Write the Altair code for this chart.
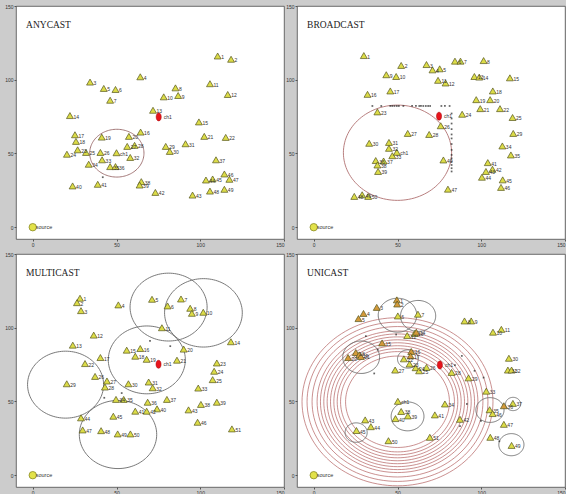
import altair as alt
import pandas as pd
import numpy as np

# shared axis ranges and ticks (MATLAB-style box axes)
X_RANGE = [-10, 150]
Y_RANGE = [-8, 150]
TICKS = [0, 50, 100, 150]

# ---------------- ANYCAST ----------------
any_x = [110.4, 118.4, 34.2, 64.2, 42.4, 49.4, 46.2, 85.2, 86.8, 78.2, 105.8, 116.4, 71.8,
         22.2, 99.2, 64.4, 25.2, 25.8, 41.2, 57.4, 102.4, 115.2, 26.8, 20.4, 31.8, 40.4,
         56.4, 60.8, 79.4, 81.8, 91.2, 58.2, 41.4, 33.4, 46.2, 49.4, 109.4, 64.8, 63.8,
         23.8, 38.8, 73.2, 95.4, 103.4, 107.4, 114.4, 117.4, 105.8, 114.4]
any_y = [116.1, 113.9, 98.4, 102.0, 94.1, 93.4, 86.1, 94.5, 89.3, 88.4, 97.3, 90.0, 79.3,
         75.7, 71.4, 64.5, 62.7, 58.2, 61.1, 61.6, 61.6, 60.9, 52.5, 49.5, 50.7, 50.7,
         54.8, 55.5, 54.8, 51.4, 56.6, 47.3, 45.7, 42.7, 41.1, 41.1, 45.7, 30.9, 28.6,
         28.0, 29.1, 23.6, 21.8, 32.0, 32.7, 36.1, 32.5, 24.5, 25.7]
any_head = [50.0, 50.5]
any_red = [75.2, 74.8]
any_rings_cx = [50.2]
any_rings_cy = [50.2]
any_rings_r = [16.2]
any_dots_x = [41.8]
any_dots_y = [33.9]

# ---------------- BROADCAST ----------------
bro_x = [29.9, 52.2, 67.3, 70.9, 75.2, 84.3, 87.6, 101.4, 43.3, 49.2, 74.2, 78.7, 95.9,
         98.8, 117.1, 32.1, 45.7, 106.9, 97.0, 105.3, 99.4, 111.2, 38.0, 88.6, 118.7,
         75.8, 56.1, 68.9, 119.1, 33.1, 44.9, 44.9, 46.9, 112.6, 117.7, 37.0, 41.7,
         38.0, 38.4, 77.4, 103.9, 106.7, 102.8, 100.4, 112.8, 111.8, 80.1, 24.2, 28.9, 32.5]
bro_y = [116.4, 109.7, 110.3, 106.7, 107.4, 112.6, 112.6, 113.0, 103.4, 102.2, 99.6, 97.8,
         102.2, 101.8, 101.3, 90.1, 92.4, 92.4, 86.5, 86.5, 80.4, 80.4, 78.2, 76.6, 74.4,
         68.8, 63.6, 62.9, 63.6, 56.9, 57.5, 53.5, 48.5, 55.1, 49.0, 45.2, 44.9, 42.2,
         37.8, 45.6, 43.8, 39.3, 37.8, 33.9, 32.1, 27.0, 25.8, 20.9, 22.0, 20.9]
bro_head = [49.6, 50.8]
bro_red = [74.8, 75.3]
bro_rings_cx = [50.0]
bro_rings_cy = [50.5]
bro_rings_r = [32.3]
bro_dots_x = [35.0, 40.3, 45.7, 46.9, 48.2, 49.6, 50.8, 53.5, 58.7, 61.0, 63.0, 64.0, 65.4,
              66.9, 68.3, 69.5, 76.2, 78.3, 81.1,
              82.3, 82.3, 82.3, 82.3, 82.3, 82.3, 82.3, 82.3, 82.3, 82.3, 82.3, 82.3, 82.3, 82.3]
bro_dots_y = [82.2, 82.2, 82.2, 82.2, 82.2, 82.2, 82.2, 82.2, 82.2, 82.2, 82.2, 82.2, 82.2,
              82.2, 82.2, 82.2, 82.2, 82.2, 82.2,
              77.1, 73.7, 70.3, 66.5, 62.9, 60.2, 56.4, 52.4, 49.0, 46.7, 44.5, 42.2, 40.0, 37.8]

# ---------------- MULTICAST ----------------
mul_x = [28.2, 26.4, 28.8, 51.1, 71.2, 80.5, 88.5, 94.0, 95.0, 101.8, 77.1, 36.4, 23.9,
         118.3, 56.1, 64.2, 40.4, 61.2, 68.0, 90.1, 86.1, 31.2, 109.9, 108.3, 107.4, 37.2,
         44.3, 43.1, 20.3, 57.1, 69.2, 71.6, 98.8, 49.7, 54.3, 68.6, 80.1, 100.4, 109.9,
         74.2, 61.2, 68.0, 93.0, 28.8, 48.1, 98.4, 29.8, 40.8, 50.7, 58.3, 118.9]
mul_y = [120.0, 117.0, 111.6, 115.5, 119.3, 114.8, 119.5, 113.2, 109.8, 110.5, 100.0, 95.0,
         88.2, 90.5, 84.8, 85.9, 79.8, 80.7, 78.6, 85.5, 78.0, 75.7, 76.1, 70.5, 64.8, 67.0,
         63.9, 59.8, 62.0, 62.0, 63.2, 59.3, 59.1, 51.4, 51.4, 49.5, 51.4, 48.0, 49.5, 45.0,
         43.4, 43.4, 44.3, 38.9, 40.0, 35.9, 30.7, 30.2, 28.0, 28.0, 31.4]
mul_red = [75.1, 75.2]
mul_rings_cx = [81.1, 101.9, 68.1, 19.6, 50.9]
mul_rings_cy = [114.0, 110.1, 78.2, 61.4, 27.6]
mul_rings_r = [23.0, 23.2, 23.0, 22.7, 23.1]
mul_dots_x = [70.0, 82.1, 53.1, 42.7]
mul_dots_y = [91.1, 87.5, 55.7, 52.5]

# ---------------- UNICAST ----------------
uni_x = [49.6, 49.8, 37.6, 29.7, 26.7, 50.2, 62.2, 90.0, 94.0, 107.0, 112.0, 55.8, 60.2,
         61.2, 40.8, 58.2, 57.8, 25.1, 27.1, 20.5, 28.1, 53.8, 57.2, 60.8, 62.9, 67.3,
         48.6, 82.3, 92.4, 116.5, 115.9, 118.1, 103.0, 78.3, 105.0, 113.5, 118.9, 52.2,
         56.2, 48.8, 72.3, 87.3, 30.7, 34.1, 25.5, 106.8, 113.5, 105.4, 118.1, 44.6, 69.3]
uni_y = [118.9, 116.1, 113.8, 109.7, 106.2, 108.0, 109.2, 104.6, 104.6, 97.0, 98.9, 94.7,
         96.1, 97.0, 89.7, 83.9, 80.9, 83.2, 81.6, 79.8, 80.5, 78.9, 75.4, 72.9, 70.8, 73.1,
         71.3, 69.7, 66.0, 79.3, 71.3, 71.3, 57.0, 48.3, 44.4, 47.1, 48.7, 43.2, 40.2, 38.4,
         40.9, 37.9, 37.5, 32.9, 30.3, 41.8, 34.5, 25.7, 20.2, 23.4, 25.7]
# 1 = node already reached by a unicast packet (drawn in orange)
uni_reached = [1, 1, 1, 1, 1, 0, 0, 0, 0, 0, 0, 0, 0,
               1, 1, 1, 1, 1, 1, 1, 1, 0, 0, 0, 0, 0,
               0, 0, 0, 0, 0, 0, 0, 0, 0, 1, 0, 0,
               0, 0, 0, 0, 0, 0, 0, 0, 0, 0, 0, 0, 0]
uni_head = [50.2, 50.1]
uni_red = [75.3, 74.7]
# concentric transmission rings around the cluster head
uni_wave_r = [31, 34, 36, 38, 40, 42, 44, 46, 48, 51, 54, 57]
uni_wave_c = [50.0, 49.8]
# per-node neighbourhood circles
uni_rings_cx = [50.0, 62.3, 28.3, 56.2, 56.0, 25.3, 105.2, 119.0, 118.0]
uni_rings_cy = [108.5, 108.0, 80.0, 78.8, 39.9, 28.9, 44.2, 48.3, 20.7]
uni_rings_r = [11.5, 10.5, 11.0, 6.2, 9.8, 6.6, 8.4, 4.5, 7.5]
uni_dots_x = [31.1, 49.2, 38.2, 36.1, 84.3, 88.4, 96.0, 101.4, 91.4, 99.8, 87.3, 110.8]
uni_dots_y = [94.3, 95.4, 85.1, 69.0, 74.7, 80.9, 70.8, 66.2, 48.3, 36.8, 33.3, 23.0]

SOURCE = [0.0, 0.0]

NODE_FILL = "#dcdc48"
NODE_REACHED = "#d49a3a"
NODE_EDGE = "#55551c"
LABEL_COLOR = "#333333"
# tall ellipse used for the red cluster-head marker
ELLIPSE = "M0,-1 C0.85,-1 0.85,1 0,1 C-0.85,1 -0.85,-1 0,-1 Z"


def ring_frame(cxs, cys, rs, n=120):
    t = np.linspace(0, 2 * np.pi, n + 1)
    rows = []
    for i, (cx, cy, r) in enumerate(zip(cxs, cys, rs)):
        for k, a in enumerate(t):
            rows.append({"ring": i, "k": k, "x": cx + r * np.cos(a), "y": cy + r * np.sin(a)})
    return pd.DataFrame(rows)


def enc_xy():
    common = dict(values=TICKS, labelFontSize=5, labelColor="#333", tickSize=2,
                  tickColor="#555", domain=False, grid=False, title=None, labelPadding=1,
                  labelFont="Liberation Sans")
    return (alt.X("x:Q", scale=alt.Scale(domain=X_RANGE, nice=False, zero=False),
                  axis=alt.Axis(orient="bottom", **common)),
            alt.Y("y:Q", scale=alt.Scale(domain=Y_RANGE, nice=False, zero=False),
                  axis=alt.Axis(orient="left", **common)))


def panel(title, nx, ny, head, red, rings, ring_color, dots, waves=None, reached=None):
    X, Y = enc_xy()
    layers = []

    if waves is not None:
        wf = ring_frame([waves[0]] * len(waves[2]), [waves[1]] * len(waves[2]), waves[2])
        layers.append(alt.Chart(wf).mark_line(color="#b05a5a", strokeWidth=0.8, opacity=0.85)
                      .encode(x=X, y=Y, detail="ring:N", order="k:Q"))

    rf = ring_frame(*rings)
    layers.append(alt.Chart(rf).mark_line(color=ring_color, strokeWidth=0.9)
                  .encode(x=X, y=Y, detail="ring:N", order="k:Q"))

    df_dots = pd.DataFrame({"x": dots[0], "y": dots[1]})
    layers.append(alt.Chart(df_dots).mark_point(shape="square", filled=True, size=3, color="#222")
                  .encode(x=X, y=Y))

    labels = [str(i + 1) for i in range(len(nx))]
    flags = reached if reached is not None else [0] * len(nx)
    fills = [NODE_REACHED if f else NODE_FILL for f in flags]
    nodes = pd.DataFrame({"x": nx, "y": ny, "label": labels, "fill": fills})
    if head is not None:
        nodes = pd.concat([nodes, pd.DataFrame({"x": [head[0]], "y": [head[1]],
                                                "label": ["ch1"], "fill": [NODE_FILL]})])
    layers.append(alt.Chart(nodes).mark_point(shape="triangle-up", filled=True, size=48,
                                              stroke=NODE_EDGE, strokeWidth=0.7, opacity=1)
                  .encode(x=X, y=Y, fill=alt.Fill("fill:N", scale=None)))
    layers.append(alt.Chart(nodes).mark_text(align="left", dx=3.5, dy=1, fontSize=5,
                                             color=LABEL_COLOR, font="Liberation Sans")
                  .encode(x=X, y=Y, text="label:N"))

    src = pd.DataFrame({"x": [SOURCE[0]], "y": [SOURCE[1]], "label": ["source"]})
    layers.append(alt.Chart(src).mark_point(shape="circle", filled=True, size=55,
                                            fill="#e2e24a", stroke="#8a8a24", strokeWidth=0.8,
                                            opacity=1)
                  .encode(x=X, y=Y))
    layers.append(alt.Chart(src).mark_text(align="left", dx=3, fontSize=5.5,
                                           color=LABEL_COLOR, font="Liberation Sans")
                  .encode(x=X, y=Y, text="label:N"))

    rd = pd.DataFrame({"x": [red[0]], "y": [red[1]], "label": ["ch1"]})
    layers.append(alt.Chart(rd).mark_point(shape=ELLIPSE, filled=True, size=64,
                                           fill="#e8141c", stroke="#a00000", strokeWidth=0.5,
                                           opacity=1)
                  .encode(x=X, y=Y))
    layers.append(alt.Chart(rd).mark_text(align="left", dx=5, fontSize=5,
                                          color=LABEL_COLOR, font="Liberation Sans")
                  .encode(x=X, y=Y, text="label:N"))

    tt = pd.DataFrame({"x": [-4.0], "y": [137.0], "label": [title]})
    layers.append(alt.Chart(tt).mark_text(align="left", baseline="middle", fontSize=9.5,
                                          font="Liberation Serif", color="#222")
                  .encode(x=X, y=Y, text="label:N"))

    return alt.layer(*layers).properties(width=268, height=233)


p1 = panel("ANYCAST", any_x, any_y, any_head, any_red,
           (any_rings_cx, any_rings_cy, any_rings_r), "#9a6a6a", (any_dots_x, any_dots_y))
p2 = panel("BROADCAST", bro_x, bro_y, bro_head, bro_red,
           (bro_rings_cx, bro_rings_cy, bro_rings_r), "#b07070", (bro_dots_x, bro_dots_y))
p3 = panel("MULTICAST", mul_x, mul_y, None, mul_red,
           (mul_rings_cx, mul_rings_cy, mul_rings_r), "#6a6a6a", (mul_dots_x, mul_dots_y))
p4 = panel("UNICAST", uni_x, uni_y, uni_head, uni_red,
           (uni_rings_cx, uni_rings_cy, uni_rings_r), "#6a6a6a", (uni_dots_x, uni_dots_y),
           waves=(uni_wave_c[0], uni_wave_c[1], uni_wave_r), reached=uni_reached)

chart = alt.concat(p1, p2, p3, p4, columns=2, spacing={"row": 15, "column": 13},
                   bounds="flush").properties(
    padding={"left": 4, "top": 3, "right": 0, "bottom": 0},
    background="#cccccc",
).configure_view(fill="white", stroke="#4a4a4a", strokeWidth=0.8)

chart.save("out.html", embed_options={"renderer": "svg", "actions": False})
